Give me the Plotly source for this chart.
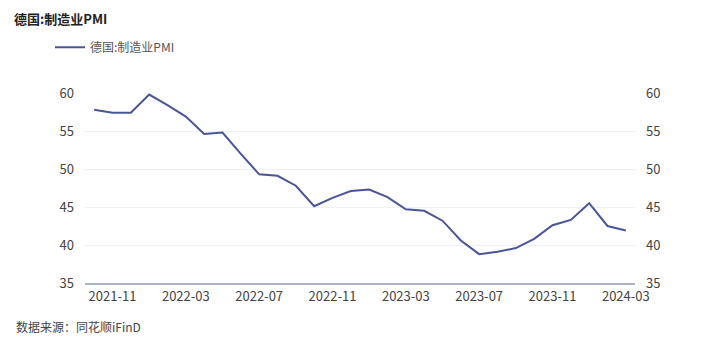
import plotly.graph_objects as go

months = ["2021-10", "2021-11", "2021-12", "2022-01", "2022-02", "2022-03", "2022-04", "2022-05",
          "2022-06", "2022-07", "2022-08", "2022-09", "2022-10", "2022-11", "2022-12", "2023-01",
          "2023-02", "2023-03", "2023-04", "2023-05", "2023-06", "2023-07", "2023-08", "2023-09",
          "2023-10", "2023-11", "2023-12", "2024-01", "2024-02", "2024-03"]
pmi = [57.8, 57.4, 57.4, 59.8, 58.4, 56.9, 54.6, 54.8, 52.0, 49.3, 49.1, 47.8, 45.1, 46.2, 47.1,
       47.3, 46.3, 44.7, 44.5, 43.2, 40.6, 38.8, 39.1, 39.6, 40.8, 42.6, 43.3, 45.5, 42.5, 41.9]
tick_labels = ["2021-11", "2022-03", "2022-07", "2022-11", "2023-03", "2023-07", "2023-11", "2024-03"]
y_ticks = [35, 40, 45, 50, 55, 60]

FONT = "Noto Sans CJK SC"
LINE = "#4a5598"
TXT = "#444444"

fig = go.Figure()
fig.add_trace(go.Scatter(x=months, y=pmi, mode="lines", name="德国:制造业PMI",
                         line=dict(color=LINE, width=2)))
fig.add_trace(go.Scatter(x=months, y=pmi, mode="lines", yaxis="y2", showlegend=False,
                         hoverinfo="skip", line=dict(color="rgba(0,0,0,0)", width=0)))

W, H = 720, 351
L, R, T, B = 85, 85, 92.7, 68
ph = H - T - B
pw = W - L - R

fig.update_layout(
    width=W, height=H,
    margin=dict(l=L, r=R, t=T, b=B),
    paper_bgcolor="white", plot_bgcolor="white",
    font=dict(family=FONT, size=13, color=TXT),
    title=dict(text="<b>德国:制造业PMI</b>", x=14 / W, xanchor="left", xref="container",
               y=1 - 19 / H, yanchor="middle", yref="container",
               font=dict(family=FONT, size=13, color="#222222")),
    showlegend=True,
    legend=dict(orientation="h", x=(50 - L) / pw, xanchor="left",
                y=(H - B - 47) / ph, yanchor="middle",
                font=dict(family=FONT, size=12, color="#555555"),
                bgcolor="rgba(0,0,0,0)", itemwidth=30),
    xaxis=dict(type="category", range=[-0.5, len(months) - 0.5],
               tickmode="array", tickvals=tick_labels, ticktext=tick_labels,
               showgrid=False, showline=True, linecolor="#a9b1c8", linewidth=2,
               ticks="", tickfont=dict(size=13, color=TXT), zeroline=False),
    yaxis=dict(range=[35, 60], tickvals=y_ticks, showgrid=True, gridcolor="#f0f1f6",
               gridwidth=1, zeroline=False, showline=False, ticks="",
               tickfont=dict(size=13, color=TXT), ticklabelstandoff=10),
    yaxis2=dict(range=[35, 60], tickvals=y_ticks, overlaying="y", side="right",
                showgrid=False, zeroline=False, showline=False, ticks="",
                tickfont=dict(size=13, color=TXT), ticklabelstandoff=10),
    annotations=[dict(text="数据来源：同花顺iFinD", xref="paper", yref="paper",
                      x=(14 - L) / pw, y=(H - B - 327) / ph, xanchor="left", yanchor="middle",
                      showarrow=False, font=dict(family=FONT, size=12, color="#444444"))],
)

fig.write_html("out.html")
